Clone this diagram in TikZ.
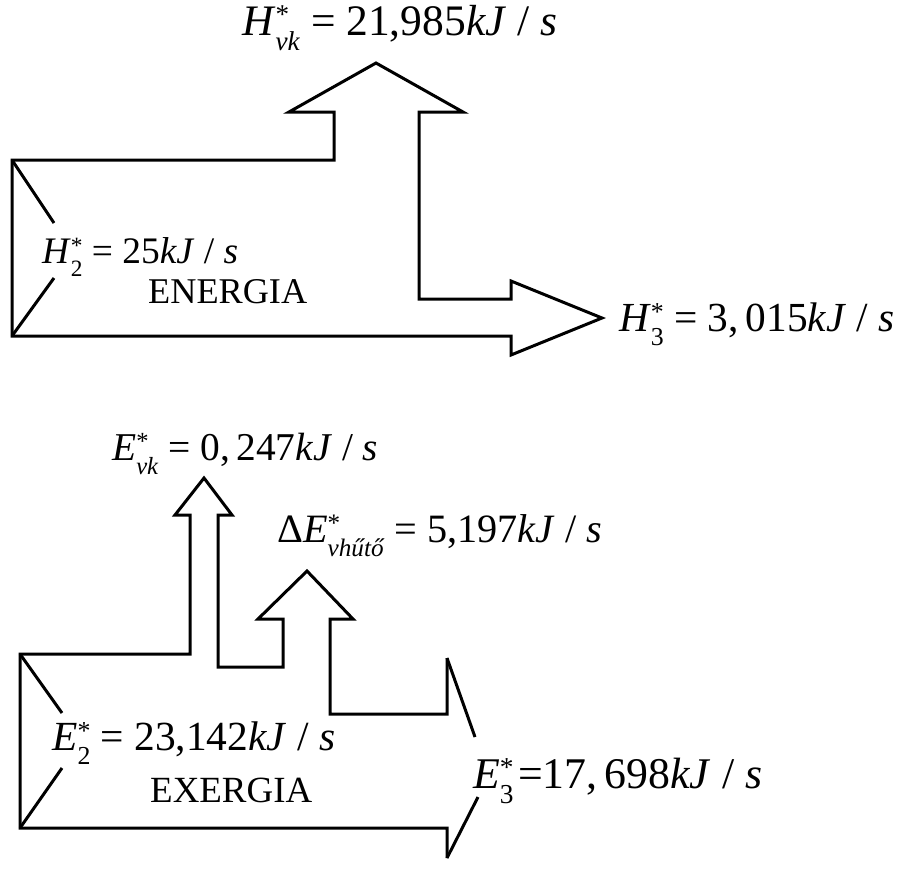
\documentclass[tikz,border=0pt]{standalone}
\usepackage{fontspec}
\setmainfont{Liberation Serif}
\newcommand{\scr}{\fontsize{20}{20}\selectfont}
\newcommand{\supsub}[2]{\makebox[0pt][l]{\raisebox{0.26em}{\scr #1}}\raisebox{-0.36em}{\scr #2}}
\newcommand{\eqs}{\hspace{0.25em}=\hspace{0.25em}}
\newcommand{\sls}{\hspace{0.25em}/\hspace{0.25em}}
\tikzset{
  flow/.style={draw=black, line width=3pt, line join=miter},
  lbl/.style={anchor=base west, inner sep=0pt, font=\fontsize{32}{38}\selectfont},
  word/.style={anchor=base west, inner sep=0pt, font=\fontsize{30}{36}\selectfont}
}
\begin{document}
\begin{tikzpicture}[x=1pt,y=-1pt]
\useasboundingbox (0,0) rectangle (901,881);
% ENERGIA flow
\draw[flow] (12,160) -- (334,160) -- (334,112) -- (289,112) -- (376,63) -- (463,112)
  -- (419,112) -- (419,299) -- (511,299) -- (511,281) -- (602,318) -- (511,355)
  -- (511,336) -- (12,336) -- cycle;
\draw[flow] (12,160) -- (54,223);
\draw[flow] (54,278) -- (12,336);
% EXERGIA flow
\draw[flow] (447,658) -- (447,714) -- (330,714) -- (330,619) -- (353,619) -- (307,571)
  -- (258,619) -- (283,619) -- (283,667) -- (218,667) -- (218,515) -- (232,515)
  -- (204,478) -- (175,515) -- (190,515) -- (190,654) -- (20,654) -- (20,828)
  -- (447,828) -- (447,858);
\draw[flow] (447,658) -- (475,737);
\draw[flow] (478,797) -- (447,858);
\draw[flow] (20,654) -- (62,713);
\draw[flow] (62,768) -- (20,828);
% labels
\node[lbl] (hvk) at (242,35) {\resizebox{315pt}{!}{\textit{H}\supsub{*}{\textit{vk}}\eqs 21,985\textit{kJ}\sls\textit{s}}};
\node[lbl] (h2) at (42,263) {\resizebox{196pt}{!}{\textit{H}\supsub{*}{2}\eqs 25\textit{kJ}\sls\textit{s}}};
\node[word] (en) at (148,303) {\resizebox{159pt}{!}{ENERGIA}};
\node[lbl] (h3) at (619,331) {\resizebox{275pt}{!}{\textit{H}\supsub{*}{3}\eqs 3,\,015\textit{kJ}\sls\textit{s}}};
\node[lbl] (evk) at (112,460) {\resizebox{266pt}{!}{\textit{E}\supsub{*}{\textit{vk}}\eqs 0,\,247\textit{kJ}\sls\textit{s}}};
\node[lbl] (dev) at (277,542) {\resizebox{325pt}{!}{Δ\textit{E}\supsub{*}{\textit{vhűtő}}\eqs 5,197\textit{kJ}\sls\textit{s}}};
\node[lbl] (e2) at (52,750) {\resizebox{283pt}{!}{\textit{E}\supsub{*}{2}\eqs 23,142\textit{kJ}\sls\textit{s}}};
\node[word] (ex) at (150,802) {\resizebox{162pt}{!}{EXERGIA}};
\node[lbl] (e3) at (473,788) {\resizebox{289pt}{!}{\textit{E}\supsub{*}{3}\hspace{0.1em}=17,\,698\textit{kJ}\sls\textit{s}}};
\end{tikzpicture}
\end{document}
